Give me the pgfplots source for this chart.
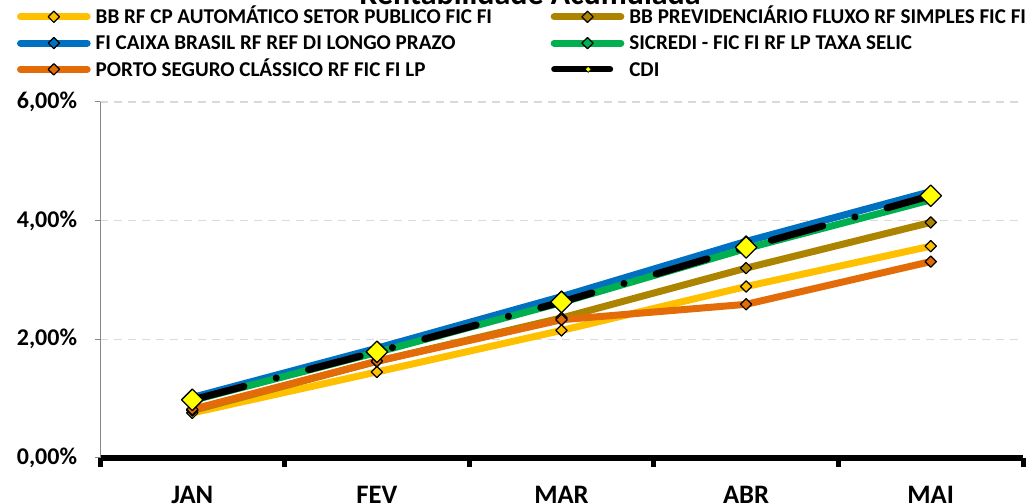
\documentclass[border=0pt]{standalone}
\usepackage{pgfplots}
\pgfplotsset{compat=1.18}
\usepackage{fontspec}
\setmainfont{Carlito}
\definecolor{cYel}{HTML}{FFC000}
\definecolor{cBrn}{HTML}{AD8400}
\definecolor{cBlu}{HTML}{0070C0}
\definecolor{cGrn}{HTML}{00B050}
\definecolor{cOrg}{HTML}{E36C09}
\definecolor{cGrid}{HTML}{D9D9D9}
\definecolor{cAx}{HTML}{868686}
\definecolor{cCdi}{HTML}{FFFF00}
\begin{document}
\begin{tikzpicture}
\useasboundingbox (0pt,0pt) rectangle (775.5pt,377.25pt);
\node[anchor=base, inner sep=0pt, font=\fontsize{24}{28}\selectfont\bfseries] at (397.5pt,373.5pt) {Rentabilidade Acumulada};
\begin{axis}[
  at={(75pt,33.75pt)}, anchor=south west,
  scale only axis, width=692.25pt, height=267pt,
  xmin=-0.5, xmax=4.5, ymin=0, ymax=6,
  axis lines*=left,
  x axis line style={black, line width=4.5pt},
  y axis line style={cAx, line width=0.75pt},
  tick align=outside,
  xtick={0,1,2,3,4}, xticklabels={JAN,FEV,MAR,ABR,MAI},
  major x tick style={draw=none},
  minor xtick={-0.5,0.5,1.5,2.5,3.5,4.5},
  minor x tick style={black, line width=3.75pt},
  minor tick length=6.75pt,
  ytick={0,2,4,6}, yticklabels={{0,00\%},{2,00\%},{4,00\%},{6,00\%}},
  major y tick style={cAx, line width=0.75pt},
  major tick length=4pt,
  ymajorgrids, y grid style={cGrid, line width=1.1pt, dash pattern=on 6pt off 4.5pt},
  xticklabel style={font=\fontsize{20}{24}\selectfont\bfseries, anchor=north, inner sep=0pt, yshift=-17pt},
  yticklabel style={font=\fontsize{18}{22}\selectfont\bfseries, anchor=east, inner sep=0pt, xshift=-13pt},
  clip=false,
  every axis plot/.append style={line width=5.25pt, line join=round, line cap=round,
     mark=square*, mark size=3pt},
  legend image code/.code={
    \draw[#1, mark repeat=2, mark phase=2] plot coordinates {(0pt,0pt) (25pt,0pt) (50pt,0pt)};
  },
  legend columns=2,
  legend cell align=left,
  legend style={at={(-0.0899,1.258)}, anchor=north west, draw=none, fill=none,
     inner sep=0pt, outer sep=0pt,
     font=\fontsize{15.8}{18}\selectfont\bfseries,
     row sep=9.7pt, column sep=0pt,
     /tikz/every odd column/.append style={column sep=3.75pt},
     nodes={inner sep=0pt, text height=10pt, text depth=0pt}},
]
\addplot[cYel, mark options={solid, rotate=45, draw=black, fill=cYel, line width=0.9pt}]
  coordinates {(0,0.76) (1,1.45) (2,2.15) (3,2.89) (4,3.57)};
\addlegendentry{\makebox[341.25pt][l]{BB RF CP AUTOMÁTICO SETOR PUBLICO FIC FI}}
\addplot[cBrn, mark options={solid, rotate=45, draw=black, fill=cBrn, line width=0.9pt}]
  coordinates {(0,0.80) (1,1.63) (2,2.36) (3,3.20) (4,3.97)};
\addlegendentry{BB PREVIDENCIÁRIO FLUXO RF SIMPLES FIC FI}
\addplot[cBlu, mark options={solid, rotate=45, draw=black, fill=cBlu, line width=0.9pt}]
  coordinates {(0,1.02) (1,1.85) (2,2.72) (3,3.65) (4,4.49)};
\addlegendentry{\makebox[341.25pt][l]{FI CAIXA BRASIL RF REF DI LONGO PRAZO}}
\addplot[cGrn, mark options={solid, rotate=45, draw=black, fill=cGrn, line width=0.9pt}]
  coordinates {(0,0.97) (1,1.78) (2,2.62) (3,3.53) (4,4.35)};
\addlegendentry{SICREDI - FIC FI RF LP TAXA SELIC}
\addplot[cOrg, mark options={solid, rotate=45, draw=black, fill=cOrg, line width=0.9pt}]
  coordinates {(0,0.82) (1,1.63) (2,2.33) (3,2.59) (4,3.31)};
\addlegendentry{\makebox[341.25pt][l]{PORTO SEGURO CLÁSSICO RF FIC FI LP}}
\addplot[black, forget plot, dash pattern=on 40pt off 25pt on 0.1pt off 25pt,
   mark size=5.7pt, mark options={solid, rotate=45, draw=black, fill=cCdi, line width=1pt}]
  coordinates {(0,0.98) (1,1.79) (2,2.63) (3,3.55) (4,4.42)};
\addlegendimage{legend image code/.code={
  \draw[black, line width=4.5pt, line cap=round] (0pt,0pt) -- (42pt,0pt);
  \draw[mark=square*, mark size=1.6pt, mark options={rotate=45, fill=cCdi, draw=black, line width=0.5pt}] plot coordinates {(25.5pt,0pt)};
}}
\addlegendentry{CDI}
\end{axis}
\end{tikzpicture}
\end{document}
